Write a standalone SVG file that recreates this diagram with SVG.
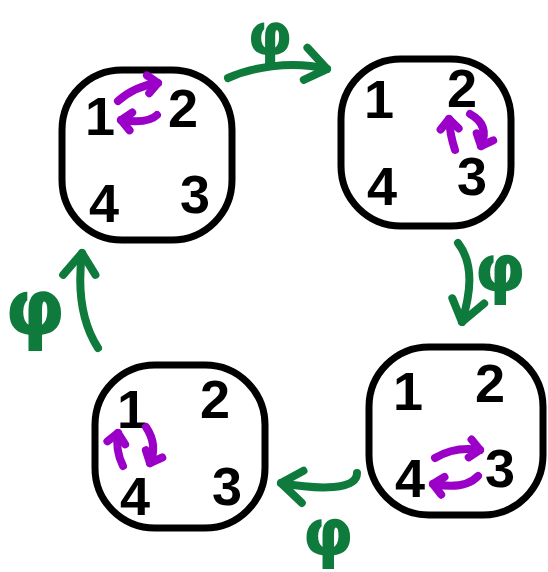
<svg xmlns="http://www.w3.org/2000/svg" width="548" height="572" viewBox="0 0 548 572">
<style>
.box{fill:#fff;stroke:#000;stroke-width:7}
.d{font-family:"Liberation Sans",Arial,sans-serif;font-weight:bold;font-size:54px;fill:#000;text-anchor:middle}
.phi{font-family:"DejaVu Sans","Liberation Sans",sans-serif;font-weight:bold;fill:#0e7a3c;text-anchor:middle}
.sw{fill:none;stroke:#9b00c8;stroke-width:8;stroke-linecap:round}
.g{fill:none;stroke:#0e7a3c;stroke-width:8;stroke-linecap:round}
</style>
<defs>
<marker id="pa" markerUnits="userSpaceOnUse" viewBox="-16 -14 22 28" markerWidth="22" markerHeight="28" refX="0" refY="0" orient="auto">
<path d="M-10,-9 L0,0 L-10,9" fill="none" stroke="#9b00c8" stroke-width="8" stroke-linecap="round" stroke-linejoin="round"/>
</marker>
<marker id="ga" markerUnits="userSpaceOnUse" viewBox="-30 -24 36 48" markerWidth="36" markerHeight="48" refX="0" refY="0" orient="auto">
<path d="M-24,-16 L0,0 L-20,16" fill="none" stroke="#0e7a3c" stroke-width="8" stroke-linecap="round" stroke-linejoin="round"/>
</marker>
</defs>
<g id="connectors">
<path class="g" d="M228,78 C250,68 290,60 327,69" marker-end="url(#ga)"/>
<path class="g" d="M458,243 C475,265 470,295 462,322" marker-end="url(#ga)"/>
<path class="g" d="M357,473 C357,490 320,490 281,483" marker-end="url(#ga)"/>
<path class="g" d="M98,348 C80,320 78,285 82,253" marker-end="url(#ga)"/>
<text class="phi" x="270" y="55" font-size="58">φ</text>
<text class="phi" x="500" y="291" font-size="66">φ</text>
<text class="phi" x="328" y="555" font-size="66">φ</text>
<text class="phi" x="35" y="335" font-size="78">φ</text>
</g>
<g id="node1">
<rect class="box" x="62" y="70" width="170" height="170" rx="60"/>
<text class="d" x="100" y="135">1</text>
<text class="d" x="183" y="127">2</text>
<text class="d" x="104" y="222">4</text>
<text class="d" x="195" y="213">3</text>
<path class="sw" d="M118,101 Q135,86 158,83" marker-end="url(#pa)"/>
<path class="sw" d="M157,115 Q148,124 121,120" marker-end="url(#pa)"/>
</g>
<g id="node2">
<rect class="box" x="341" y="59" width="170" height="167" rx="60"/>
<text class="d" x="379" y="118">1</text>
<text class="d" x="462" y="107">2</text>
<text class="d" x="382" y="205">4</text>
<text class="d" x="472" y="195">3</text>
<path class="sw" d="M455,150 Q450,135 449,119" marker-end="url(#pa)"/>
<path class="sw" d="M470,114 Q490,125 481,146" marker-end="url(#pa)"/>
</g>
<g id="node3">
<rect class="box" x="369" y="347" width="174" height="168" rx="60"/>
<text class="d" x="408" y="410">1</text>
<text class="d" x="490" y="402">2</text>
<text class="d" x="410" y="497">4</text>
<text class="d" x="500" y="487">3</text>
<path class="sw" d="M435,458 Q455,446 480,450" marker-end="url(#pa)"/>
<path class="sw" d="M478,476 Q465,490 433,484" marker-end="url(#pa)"/>
</g>
<g id="node4">
<rect class="box" x="95" y="365" width="170" height="163" rx="60"/>
<text class="d" x="132" y="428">1</text>
<text class="d" x="215" y="418">2</text>
<text class="d" x="135" y="515">4</text>
<text class="d" x="227" y="505">3</text>
<path class="sw" d="M123,466 Q115,450 118,433" marker-end="url(#pa)"/>
<path class="sw" d="M146,427 Q158,445 150,463" marker-end="url(#pa)"/>
</g>
</svg>
